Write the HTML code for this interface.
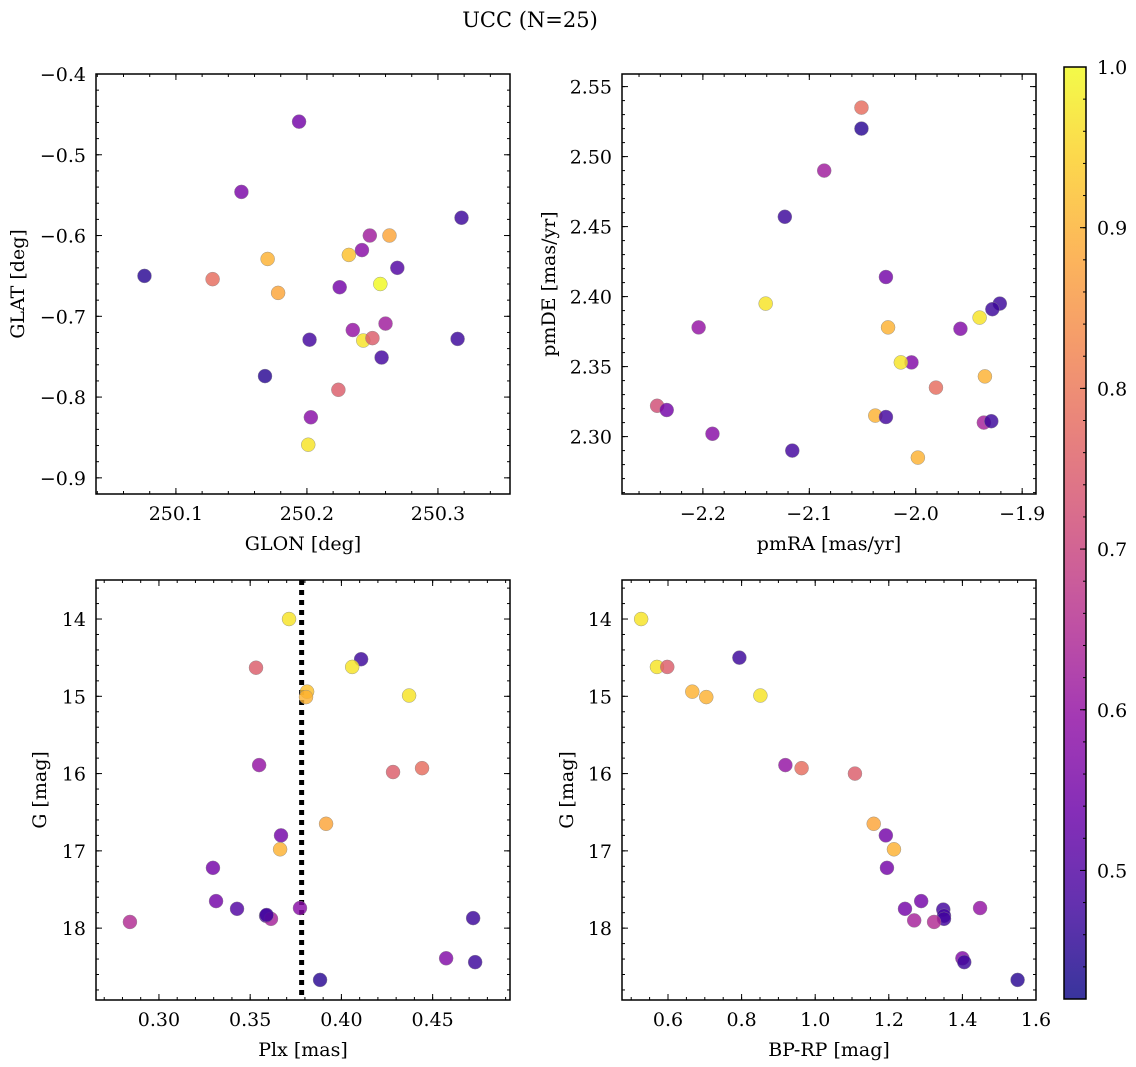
<!DOCTYPE html>
<html><head><meta charset="utf-8">
<style>
html,body{margin:0;padding:0;background:#fff;}
svg{display:block;font-family:"DejaVu Serif","Liberation Serif",serif;}
</style></head>
<body>
<svg id="fig" width="1136" height="1067" viewBox="0 0 1136 1067" xmlns="http://www.w3.org/2000/svg">
<text x="530" y="27" font-size="21" text-anchor="middle">UCC (N=25)</text>
</svg>
<script>
// ---- Panel 1: GLON vs GLAT ----
const glonX = [250.194,250.150,250.076,250.128,250.170,250.178,250.168,250.202,250.201,250.203,250.224,250.225,250.232,250.235,250.242,250.248,250.263,250.256,250.243,250.250,250.260,250.257,250.269,250.318,250.315];
const glatY = [-0.459,-0.546,-0.650,-0.654,-0.629,-0.671,-0.774,-0.729,-0.859,-0.825,-0.791,-0.664,-0.624,-0.717,-0.618,-0.600,-0.600,-0.660,-0.730,-0.727,-0.709,-0.751,-0.640,-0.578,-0.728];
const glonC = [0.55,0.56,0.45,0.78,0.90,0.88,0.45,0.48,0.97,0.58,0.75,0.55,0.92,0.60,0.58,0.62,0.88,1.00,0.97,0.75,0.62,0.48,0.50,0.47,0.47];
// ---- Panel 2: pmRA vs pmDE ----
const pmraX = [-2.051,-2.051,-2.086,-2.123,-2.028,-2.141,-1.921,-1.928,-1.940,-2.204,-2.026,-1.958,-2.004,-2.014,-1.935,-1.981,-2.243,-2.234,-2.038,-2.028,-1.936,-1.929,-2.191,-1.998,-2.116];
const pmdeY = [2.535,2.520,2.490,2.457,2.414,2.395,2.395,2.391,2.385,2.378,2.378,2.377,2.353,2.353,2.343,2.335,2.322,2.319,2.315,2.314,2.310,2.311,2.302,2.285,2.290];
const pmC = [0.78,0.45,0.62,0.47,0.55,0.97,0.47,0.47,0.97,0.60,0.90,0.57,0.57,0.97,0.90,0.78,0.72,0.55,0.90,0.48,0.63,0.47,0.58,0.90,0.48];
// ---- Panel 3: Plx vs G ----
const plxX = [0.3713,0.3532,0.4108,0.4059,0.3812,0.3806,0.4371,0.3549,0.4283,0.4442,0.3916,0.3669,0.3664,0.3296,0.3313,0.3428,0.3587,0.3614,0.2841,0.3773,0.4722,0.4574,0.4733,0.3883,0.3590];
const plxG = [14.00,14.63,14.52,14.62,14.94,15.01,14.99,15.89,15.98,15.93,16.65,16.80,16.98,17.22,17.65,17.75,17.84,17.88,17.92,17.74,17.87,18.39,18.44,18.67,17.83];
const plxC = [0.97,0.75,0.47,0.97,0.92,0.90,0.97,0.60,0.75,0.78,0.88,0.55,0.90,0.55,0.55,0.50,0.48,0.63,0.65,0.58,0.47,0.57,0.47,0.45,0.48];
const plxMean = 0.3782;
// ---- Panel 4: BP-RP vs G ----
const bprpX = [0.527,0.570,0.598,0.794,0.666,0.704,0.851,0.919,0.963,1.108,1.159,1.192,1.214,1.195,1.288,1.244,1.348,1.350,1.350,1.269,1.323,1.448,1.400,1.405,1.550];
const bprpG = [14.00,14.62,14.62,14.50,14.94,15.01,14.99,15.89,15.93,16.00,16.65,16.80,16.98,17.22,17.65,17.75,17.76,17.84,17.88,17.90,17.92,17.74,18.39,18.44,18.67];
const bprpC = [0.97,0.97,0.75,0.47,0.90,0.90,0.97,0.60,0.78,0.75,0.88,0.55,0.90,0.55,0.55,0.55,0.48,0.48,0.48,0.63,0.65,0.60,0.57,0.47,0.45];
// ---- Colorbar ----
const cbTicks = [0.5,0.6,0.7,0.8,0.9,1.0];
const vmin = 0.42, vmax = 1.0;

const NS = "http://www.w3.org/2000/svg";
const svg = document.getElementById('fig');
function mk(tag, attrs, parent){const e=document.createElementNS(NS,tag);for(const k in attrs)e.setAttribute(k,attrs[k]);(parent||svg).appendChild(e);return e;}

const stops=[[13,8,135],[65,4,157],[106,0,168],[143,13,164],[177,42,144],[204,71,120],[225,100,98],[242,132,75],[252,166,54],[252,206,37],[240,249,33]];
function plasma(t){t=Math.max(0,Math.min(1,t));const f=t*10,i=Math.min(9,Math.floor(f)),r=f-i;const a=stops[i],b=stops[i+1];
 return 'rgb('+a.map((v,k)=>Math.round(v+(b[k]-v)*r)).join(',')+')';}
function cmap(v){return plasma((v-vmin)/(vmax-vmin));}

function fmt(v,d){const s=Math.abs(v).toFixed(d);return (v<0?'\u2212':'')+s;}
const TFS=19, LFS=19;

function panel(cfg){
 const {name,x0,x1,y0,y1,xmin,xmax,ymin,ymax,invertY,xt,xminor,yt,yminor,xd,yd,xlabel,ylabel,ylabX,xs,ys,cs}=cfg;
 const g=mk('g',{});
 
 
 const sx=v=>x0+(v-xmin)/(xmax-xmin)*(x1-x0);
 const sy=v=>invertY? y0+(v-ymin)/(ymax-ymin)*(y1-y0) : y1-(v-ymin)/(ymax-ymin)*(y1-y0);
 const clipId=name+'-clip';
 const cp=mk('clipPath',{id:clipId},g);mk('rect',{x:x0,y:y0,width:x1-x0,height:y1-y0},cp);
 const pts=mk('g',{'clip-path':'url(#'+clipId+')'},g);
 if(cfg.vline!==undefined){
  const l=mk('line',{x1:sx(cfg.vline),x2:sx(cfg.vline),y1:y0,y2:y1,stroke:'#000','stroke-width':5,'stroke-dasharray':'5,5'},pts);
  
  
 }
 xs.forEach((v,i)=>{
  const c=mk('circle',{cx:sx(v),cy:sy(ys[i]),r:7,fill:cmap(cs[i]),'fill-opacity':0.82,stroke:'#888','stroke-width':0.5,'stroke-opacity':0.8},pts);
  
  
 });
 const tk=mk('g',{stroke:'#000','stroke-width':1},g);
 const xmaj=[],ymaj=[];
 for(let v=xt[0];v<=xt[1]+1e-9;v+=xt[2]){xmaj.push(v);}
 for(let v=yt[0];v<=yt[1]+1e-9;v+=yt[2]){ymaj.push(v);}
 const minorX=[],minorY=[];
 for(let v=Math.ceil(xmin/xminor)*xminor;v<=xmax;v+=xminor)minorX.push(v);
 for(let v=Math.ceil(ymin/yminor)*yminor;v<=ymax;v+=yminor)minorY.push(v);
 minorX.forEach(v=>{const p=sx(v);mk('line',{x1:p,x2:p,y1:y1,y2:y1-3},tk);mk('line',{x1:p,x2:p,y1:y0,y2:y0+3},tk);});
 minorY.forEach(v=>{const p=sy(v);mk('line',{x1:x0,x2:x0+3,y1:p,y2:p},tk);mk('line',{x1:x1,x2:x1-3,y1:p,y2:p},tk);});
 xmaj.forEach(v=>{const p=sx(v);if(p<x0-1||p>x1+1)return;mk('line',{x1:p,x2:p,y1:y1,y2:y1-6},tk);mk('line',{x1:p,x2:p,y1:y0,y2:y0+6},tk);
  const t=mk('text',{x:p,y:y1+26,'font-size':TFS,'text-anchor':'middle'},g);t.textContent=fmt(v,xd);
  
  });
 ymaj.forEach(v=>{const p=sy(v);if(p<y0-1||p>y1+1)return;mk('line',{x1:x0,x2:x0+6,y1:p,y2:p},tk);mk('line',{x1:x1,x2:x1-6,y1:p,y2:p},tk);
  const t=mk('text',{x:x0-10,y:p+7,'font-size':TFS,'text-anchor':'end'},g);t.textContent=fmt(v,yd);
  
  });
 mk('rect',{x:x0,y:y0,width:x1-x0,height:y1-y0,fill:'none',stroke:'#000','stroke-width':1.5},g);
 const xl=mk('text',{x:(x0+x1)/2,y:y1+56,'font-size':LFS,'text-anchor':'middle'},g);xl.textContent=xlabel;
 
 
 const yc=(y0+y1)/2;
 const yl=mk('text',{x:ylabX,y:yc,'font-size':LFS,'text-anchor':'middle',transform:'rotate(-90 '+ylabX+' '+yc+')'},g);yl.textContent=ylabel;
 
 
}

panel({name:'glon-glat-panel',x0:96,x1:510,y0:74,y1:494,xmin:250.039,xmax:250.355,ymin:-0.92,ymax:-0.4,invertY:false,
 xt:[250.1,250.3,0.1],xminor:0.02,yt:[-0.9,-0.4,0.1],yminor:0.02,xd:1,yd:1,xlabel:'GLON [deg]',ylabel:'GLAT [deg]',ylabX:24,xs:glonX,ys:glatY,cs:glonC});
panel({name:'pm-panel',x0:622,x1:1036,y0:74,y1:494,xmin:-2.276,xmax:-1.887,ymin:2.259,ymax:2.559,invertY:false,
 xt:[-2.2,-1.9,0.1],xminor:0.02,yt:[2.30,2.55,0.05],yminor:0.01,xd:1,yd:2,xlabel:'pmRA [mas/yr]',ylabel:'pmDE [mas/yr]',ylabX:555,xs:pmraX,ys:pmdeY,cs:pmC});
panel({name:'plx-g-panel',x0:96,x1:510,y0:580,y1:1000,xmin:0.2655,xmax:0.4924,ymin:13.495,ymax:18.93,invertY:true,
 xt:[0.30,0.45,0.05],xminor:0.01,yt:[14,18,1],yminor:0.2,xd:2,yd:0,xlabel:'Plx [mas]',ylabel:'G [mag]',ylabX:46,xs:plxX,ys:plxG,cs:plxC,vline:plxMean});
panel({name:'cmd-panel',x0:622,x1:1036,y0:580,y1:1000,xmin:0.475,xmax:1.6,ymin:13.495,ymax:18.93,invertY:true,
 xt:[0.6,1.6,0.2],xminor:0.05,yt:[14,18,1],yminor:0.2,xd:1,yd:0,xlabel:'BP-RP [mag]',ylabel:'G [mag]',ylabX:573,xs:bprpX,ys:bprpG,cs:bprpC});

(function(){
 const cx0=1064,cx1=1086,cy0=67,cy1=999;
 const g=mk('g',{});
 
 
 const defs=mk('defs',{},g);
 const lg=mk('linearGradient',{id:'cbgrad',x1:0,y1:1,x2:0,y2:0},defs);
 for(let i=0;i<=20;i++){mk('stop',{offset:(i/20),'stop-color':plasma(i/20),'stop-opacity':0.82},lg);}
 mk('rect',{x:cx0,y:cy0,width:cx1-cx0,height:cy1-cy0,fill:'url(#cbgrad)'},g);
 const sy=v=>cy1-(v-vmin)/(vmax-vmin)*(cy1-cy0);
 for(let v=0.44;v<=1.0001;v+=0.02){const p=sy(v);mk('line',{x1:cx1,x2:cx1-3,y1:p,y2:p,stroke:'#000','stroke-width':1},g);}
 cbTicks.forEach(v=>{const p=sy(v);mk('line',{x1:cx1,x2:cx1-6,y1:p,y2:p,stroke:'#000','stroke-width':1},g);
  const t=mk('text',{x:cx1+11,y:p+7,'font-size':TFS},g);t.textContent=v.toFixed(1);
  
  });
 mk('rect',{x:cx0,y:cy0,width:cx1-cx0,height:cy1-cy0,fill:'none',stroke:'#000','stroke-width':1.5},g);
})();
</script>
</body></html>
